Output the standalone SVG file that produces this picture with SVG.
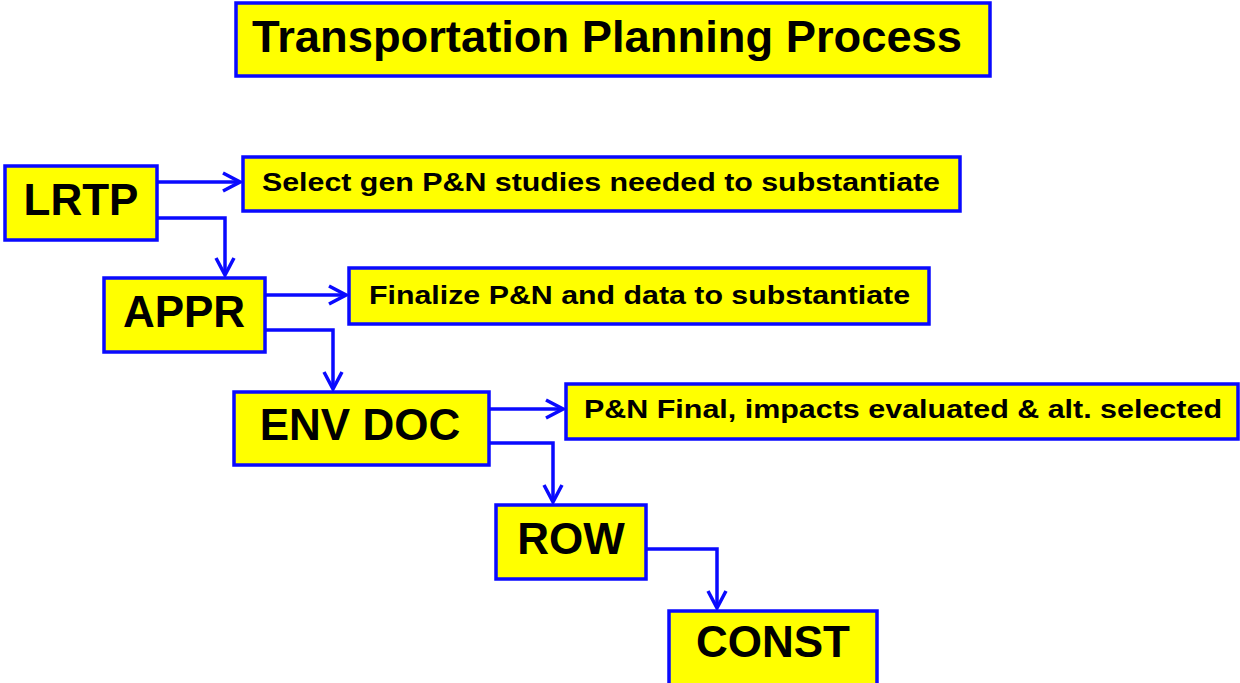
<svg xmlns="http://www.w3.org/2000/svg" width="1240" height="683" viewBox="0 0 1240 683">
  <style>
    .box { fill: #ffff00; stroke: #0a0aff; stroke-width: 3.5; }
    .big { font-family: "Liberation Sans", Arial, sans-serif; font-weight: bold; font-size: 44px; fill: #000; text-anchor: middle; }
    .small { font-family: "Liberation Sans", Arial, sans-serif; font-weight: bold; font-size: 26.5px; fill: #000; }
    .title { font-family: "Liberation Sans", Arial, sans-serif; font-weight: bold; font-size: 45px; fill: #000; }
    .conn { fill: none; stroke: #0a0aff; stroke-width: 3.5; marker-end: url(#chev); }
  </style>
  <defs>
    <marker id="chev" markerUnits="userSpaceOnUse" viewBox="-3 -3 24 24" markerWidth="24" markerHeight="24" refX="18" refY="9" orient="auto">
      <path d="M1,0 L18,9 L1,18" fill="none" stroke="#0a0aff" stroke-width="3.5"/>
    </marker>
  </defs>

  <!-- Heading -->
  <g id="title">
    <rect class="box" x="236" y="3" width="754" height="73"/>
    <text class="title" x="252" y="52" textLength="710" lengthAdjust="spacingAndGlyphs">Transportation Planning Process</text>
  </g>

  <!-- Process stages -->
  <g id="lrtp">
    <rect class="box" x="5" y="166" width="152" height="74"/>
    <text class="big" x="81" y="215">LRTP</text>
  </g>
  <g id="appr">
    <rect class="box" x="104" y="278" width="161" height="74"/>
    <text class="big" x="184" y="327">APPR</text>
  </g>
  <g id="envdoc">
    <rect class="box" x="234" y="392" width="255" height="73"/>
    <text class="big" x="360" y="440">ENV DOC</text>
  </g>
  <g id="row">
    <rect class="box" x="496" y="505" width="150" height="74"/>
    <text class="big" x="571" y="554">ROW</text>
  </g>
  <g id="const">
    <rect class="box" x="669" y="611" width="208" height="80"/>
    <text class="big" x="773" y="657">CONST</text>
  </g>

  <!-- Stage outcomes -->
  <g id="select-pn">
    <rect class="box" x="243" y="157" width="717" height="54"/>
    <text class="small" x="262" y="191" textLength="678" lengthAdjust="spacingAndGlyphs">Select gen P&amp;N studies needed to substantiate</text>
  </g>
  <g id="finalize-pn">
    <rect class="box" x="349" y="268" width="580" height="56"/>
    <text class="small" x="369" y="304" textLength="541" lengthAdjust="spacingAndGlyphs">Finalize P&amp;N and data to substantiate</text>
  </g>
  <g id="pn-final">
    <rect class="box" x="566" y="384" width="672" height="55"/>
    <text class="small" x="584" y="418" textLength="638" lengthAdjust="spacingAndGlyphs">P&amp;N Final, impacts evaluated &amp; alt. selected</text>
  </g>

  <!-- Connectors -->
  <g id="connectors">
    <path class="conn" d="M157,182 H240"/>
    <path class="conn" d="M157,218 H225 V275"/>
    <path class="conn" d="M265,295 H346"/>
    <path class="conn" d="M265,330 H333 V389"/>
    <path class="conn" d="M489,409 H563"/>
    <path class="conn" d="M489,443 H553 V502"/>
    <path class="conn" d="M646,549 H717 V608"/>
  </g>
</svg>
